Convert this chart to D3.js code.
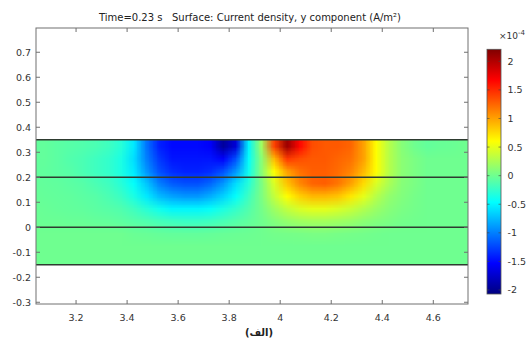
<!DOCTYPE html>
<html><head><meta charset="utf-8">
<script src="https://cdn.jsdelivr.net/npm/d3@7"></script>
<style>
html,body{margin:0;padding:0;background:#fff;}
svg{display:block;font-family:"DejaVu Sans",sans-serif;}
.pre{white-space:pre;}
</style></head>
<body>
<svg id="chart" width="531" height="345"></svg>
<script>
// ---- data (values in units of 1e-4 A/m^2) ----
const title = "Time=0.23 s   Surface: Current density, y component (A/m²)";
const caption = "(الف)";
const xTicks = [3.2, 3.4, 3.6, 3.8, 4.0, 4.2, 4.4, 4.6];
const yTicks = [-0.3, -0.2, -0.1, 0, 0.1, 0.2, 0.3, 0.4, 0.5, 0.6, 0.7];
const cbTicks = [-2, -1.5, -1, -0.5, 0, 0.5, 1, 1.5, 2];
const cbRange = [-2.07, 2.21];
const boundaries = [0.35, 0.2, 0, -0.15];
// grid cell edges
const gridX0 = 3.0, gridDX = 0.05;   // 35 columns: 3.00 .. 4.75
const gridY0 = 0.35, gridDY = 0.05;  // 10 rows: 0.35 .. -0.15
const row0 = [-0.05,-0.05,-0.08,-0.1,-0.12,-0.15,-0.2,-0.3,-0.55,-1.05,-1.4,-1.5,-1.5,-1.5,-1.55,-1.95,-1.7,-0.5,0.2,1.4,2.1,1.65,1.35,1.3,1.3,1.25,1.0,0.6,0.3,0.1,0.0,-0.05,-0.03,-0.02,0];
const row1 = [-0.05,-0.05,-0.08,-0.12,-0.15,-0.2,-0.25,-0.35,-0.6,-1.0,-1.3,-1.45,-1.45,-1.45,-1.45,-1.55,-1.2,-0.45,0.1,0.9,1.45,1.35,1.3,1.3,1.25,1.2,1.0,0.6,0.3,0.12,0.05,0,0,0,0];
const row2 = [-0.05,-0.06,-0.08,-0.1,-0.15,-0.2,-0.25,-0.35,-0.55,-0.9,-1.2,-1.35,-1.4,-1.4,-1.35,-1.2,-0.9,-0.4,0.1,0.6,1.0,1.2,1.28,1.28,1.22,1.12,0.9,0.6,0.3,0.12,0.05,0,0,0,0];
const row3 = [-0.04,-0.05,-0.06,-0.08,-0.1,-0.15,-0.2,-0.3,-0.45,-0.7,-1.0,-1.15,-1.2,-1.2,-1.1,-0.9,-0.6,-0.3,0.05,0.45,0.85,1.1,1.25,1.28,1.18,1.0,0.75,0.45,0.25,0.1,0.05,0,0,0,0];
const row4 = [-0.03,-0.04,-0.05,-0.06,-0.08,-0.1,-0.15,-0.22,-0.35,-0.55,-0.75,-0.85,-0.9,-0.9,-0.8,-0.65,-0.45,-0.2,0.05,0.35,0.6,0.8,0.9,0.9,0.85,0.7,0.5,0.3,0.15,0.08,0.03,0,0,0,0];
const row5 = [-0.02,-0.03,-0.04,-0.05,-0.06,-0.08,-0.1,-0.13,-0.2,-0.3,-0.4,-0.5,-0.5,-0.5,-0.45,-0.35,-0.25,-0.12,0.02,0.2,0.35,0.45,0.5,0.5,0.45,0.38,0.28,0.18,0.1,0.05,0.02,0,0,0,0];
const row6 = [-0.01,-0.02,-0.02,-0.03,-0.03,-0.04,-0.05,-0.07,-0.1,-0.13,-0.17,-0.2,-0.22,-0.22,-0.2,-0.16,-0.11,-0.06,0,0.08,0.15,0.2,0.22,0.22,0.2,0.17,0.12,0.08,0.05,0.02,0.01,0,0,0,0];
const row7 = [0,0,0,0,0,0,0,0,-0.02,-0.03,-0.04,-0.05,-0.05,-0.05,-0.04,-0.03,-0.02,-0.01,0,0.02,0.03,0.04,0.05,0.05,0.04,0.03,0.02,0.01,0,0,0,0,0,0,0];
const row8 = [0,0,0,0,0,0,0,0,0,0,0,0,0,0,0,0,0,0,0,0,0,0,0,0,0,0,0,0,0,0,0,0,0,0,0];
const row9 = [0,0,0,0,0,0,0,0,0,0,0,0,0,0,0,0,0,0,0,0,0,0,0,0,0,0,0,0,0,0,0,0,0,0,0];
const field = [row0,row1,row2,row3,row4,row5,row6,row7,row8,row9];

// ---- layout ----
const svg = d3.select("#chart");
const x = d3.scaleLinear().domain([3.043, 4.736]).range([36, 468]);
const y = d3.scaleLinear().domain([-0.307, 0.797]).range([304, 28]);

// jet colour map
const jetT = [0, 0.125, 0.375, 0.625, 0.875, 1];
const jetC = ["#000080", "#0000ff", "#00ffff", "#ffff00", "#ff0000", "#800000"];
const color = d3.scaleLinear()
  .domain(jetT.map(t => cbRange[0] + t * (cbRange[1] - cbRange[0])))
  .range(jetC).interpolate(d3.interpolateRgb).clamp(true);

// ---- surface ----
const nR = field.length, nC = field[0].length;
const cv = document.createElement("canvas");
cv.width = nC + 2; cv.height = nR + 2;
const ctx = cv.getContext("2d");
const img = ctx.createImageData(nC + 2, nR + 2);
for (let r = 0; r < nR + 2; r++) {
  for (let c = 0; c < nC + 2; c++) {
    const rr = Math.min(nR - 1, Math.max(0, r - 1));
    const cc = Math.min(nC - 1, Math.max(0, c - 1));
    const col = d3.rgb(color(field[rr][cc]));
    const k = 4 * (r * (nC + 2) + c);
    img.data[k] = col.r; img.data[k+1] = col.g; img.data[k+2] = col.b; img.data[k+3] = 255;
  }
}
ctx.putImageData(img, 0, 0);

const yTop = boundaries[0], yBot = boundaries[boundaries.length - 1];
svg.append("defs").append("clipPath").attr("id", "clipDom")
  .append("rect")
  .attr("x", x.range()[0]).attr("y", y(yTop))
  .attr("width", x.range()[1] - x.range()[0])
  .attr("height", y(yBot) - y(yTop));

const gSurf = svg.append("g").attr("clip-path", "url(#clipDom)");
gSurf.append("image")
  .attr("href", cv.toDataURL())
  .attr("preserveAspectRatio", "none")
  .attr("x", x(gridX0 - gridDX))
  .attr("y", y(gridY0 + gridDY))
  .attr("width", x(gridX0 + (nC + 1) * gridDX) - x(gridX0 - gridDX))
  .attr("height", y(gridY0 - (nR + 1) * gridDY) - y(gridY0 + gridDY));

// boundary lines
svg.append("g").selectAll("line").data(boundaries).join("line")
  .attr("x1", x.range()[0]).attr("x2", x.range()[1])
  .attr("y1", d => y(d)).attr("y2", d => y(d))
  .attr("stroke", "#2e3b30").attr("stroke-width", 1.3);

// ---- frame and ticks ----
const axisCol = "#707070";
const fmt = d => d === 0 ? "0" : String(+d.toFixed(2));
svg.append("rect")
  .attr("x", x.range()[0]).attr("y", y.range()[1])
  .attr("width", x.range()[1] - x.range()[0])
  .attr("height", y.range()[0] - y.range()[1])
  .attr("fill", "none").attr("stroke", axisCol).attr("stroke-width", 1);

const tk = svg.append("g").attr("stroke", axisCol).attr("stroke-width", 1);
xTicks.forEach(v => {
  tk.append("line").attr("x1", x(v)).attr("x2", x(v)).attr("y1", y.range()[0]).attr("y2", y.range()[0] - 4);
  tk.append("line").attr("x1", x(v)).attr("x2", x(v)).attr("y1", y.range()[1]).attr("y2", y.range()[1] + 4);
});
yTicks.forEach(v => {
  tk.append("line").attr("x1", x.range()[0]).attr("x2", x.range()[0] + 4).attr("y1", y(v)).attr("y2", y(v));
  tk.append("line").attr("x1", x.range()[1]).attr("x2", x.range()[1] - 4).attr("y1", y(v)).attr("y2", y(v));
});

svg.append("g").selectAll("text").data(xTicks).join("text")
  .attr("x", d => x(d)).attr("y", 320.5)
  .attr("text-anchor", "middle").attr("font-size", 9.5).attr("fill", "#333")
  .text(fmt);
svg.append("g").selectAll("text").data(yTicks).join("text")
  .attr("x", 31).attr("y", d => y(d) + 3.5)
  .attr("text-anchor", "end").attr("font-size", 9.5).attr("fill", "#333")
  .text(fmt);

// title
svg.append("text").attr("class", "pre").attr("x", 250).attr("y", 20.5)
  .attr("text-anchor", "middle").attr("font-size", 10).attr("fill", "#222")
  .text(title);

// ---- colour bar ----
const cbY = d3.scaleLinear().domain(cbRange).range([294, 49.3]);
const grad = svg.select("defs").append("linearGradient").attr("id", "jetGrad")
  .attr("x1", 0).attr("y1", 1).attr("x2", 0).attr("y2", 0);
grad.selectAll("stop").data(jetT).join("stop")
  .attr("offset", d => d).attr("stop-color", (d, i) => jetC[i]);
const cbX0 = 487, cbW = 14;
svg.append("rect").attr("x", cbX0).attr("y", cbY(cbRange[1]))
  .attr("width", cbW).attr("height", cbY(cbRange[0]) - cbY(cbRange[1]))
  .attr("fill", "url(#jetGrad)").attr("stroke", "#555").attr("stroke-width", 0.8);
const cbt = svg.append("g").attr("stroke", "#444").attr("stroke-width", 1).attr("opacity", 0.6);
cbTicks.forEach(v => {
  cbt.append("line").attr("x1", cbX0).attr("x2", cbX0 + 2.5).attr("y1", cbY(v)).attr("y2", cbY(v));
  cbt.append("line").attr("x1", cbX0 + cbW).attr("x2", cbX0 + cbW - 2.5).attr("y1", cbY(v)).attr("y2", cbY(v));
});
svg.append("g").selectAll("text").data(cbTicks).join("text")
  .attr("x", 507.5).attr("y", d => cbY(d) + 3.5)
  .attr("font-size", 9.5).attr("fill", "#333")
  .text(fmt);
const mult = svg.append("text").attr("x", 499).attr("y", 39)
  .attr("font-size", 9).attr("fill", "#333");
mult.append("tspan").text("×10");
mult.append("tspan").attr("dy", -4).attr("font-size", 7).text("-4");

// caption
svg.append("text").attr("x", 259).attr("y", 336)
  .attr("text-anchor", "middle").attr("font-size", 10).attr("font-weight", "bold")
  .attr("fill", "#222").attr("direction", "rtl").attr("unicode-bidi", "embed")
  .text(caption);
</script>
</body></html>
